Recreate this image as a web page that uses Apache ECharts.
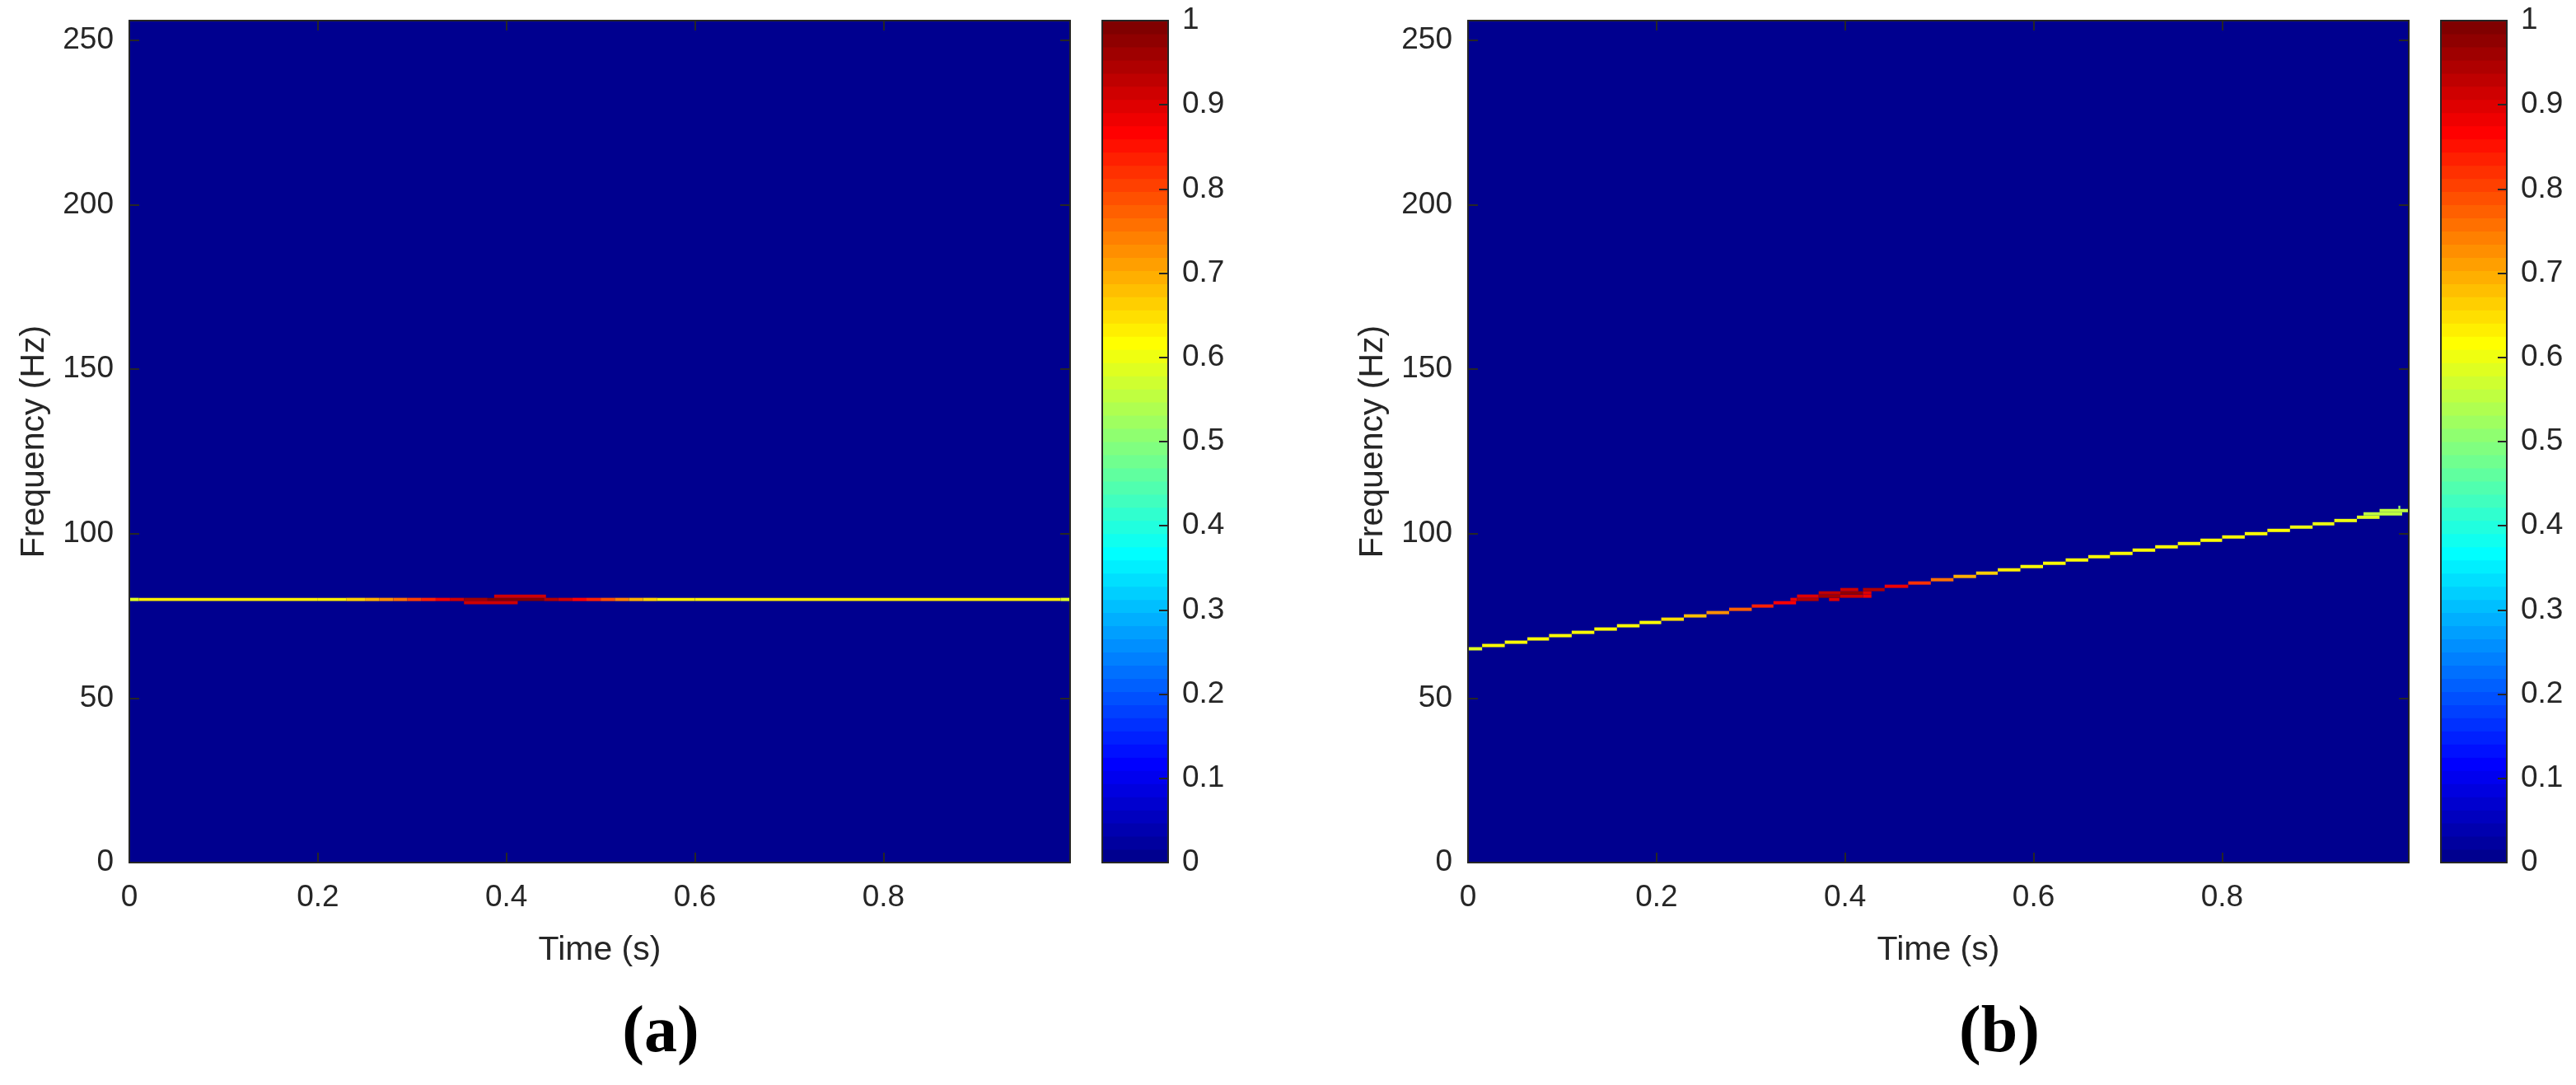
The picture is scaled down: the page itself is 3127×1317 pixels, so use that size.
<!DOCTYPE html>
<html>
<head>
<meta charset="utf-8">
<title>Spectrograms (a) (b)</title>
<script src="https://cdn.jsdelivr.net/npm/echarts@6/dist/echarts.min.js"></script>
<style>
  html, body { margin: 0; padding: 0; background: #fff; }
  #chart { width: 3127px; height: 1317px; }
</style>
</head>
<body>
<div id="chart"></div>
<script>
// spectrogram cells: [t start (s), t end (s), frequency bin (Hz), normalised magnitude]
// (a) steady tone at 80 Hz
const steadyCells = [
  [0.000, 0.010, 80, 0.58],
  [0.010, 0.200, 80, 0.63],
  [0.200, 0.230, 80, 0.64],
  [0.230, 0.250, 80, 0.66],
  [0.250, 0.265, 80, 0.69],
  [0.265, 0.280, 80, 0.72],
  [0.280, 0.295, 80, 0.76],
  [0.295, 0.310, 80, 0.80],
  [0.310, 0.325, 80, 0.84],
  [0.325, 0.340, 80, 0.88],
  [0.340, 0.355, 80, 0.92],
  [0.355, 0.380, 80, 0.96],
  [0.380, 0.440, 80, 0.99],
  [0.440, 0.455, 80, 0.95],
  [0.455, 0.470, 80, 0.91],
  [0.470, 0.485, 80, 0.87],
  [0.485, 0.500, 80, 0.83],
  [0.500, 0.515, 80, 0.79],
  [0.515, 0.530, 80, 0.74],
  [0.530, 0.545, 80, 0.70],
  [0.545, 0.560, 80, 0.66],
  [0.560, 0.600, 80, 0.64],
  [0.600, 0.988, 80, 0.63],
  [0.988, 0.998, 80, 0.58],
  [0.355, 0.412, 79, 0.91],
  [0.387, 0.442, 81, 0.91]
];

// (b) linear chirp 65 -> 107 Hz
const chirpCells = [
  [0.000, 0.015, 65, 0.58],
  [0.015, 0.039, 66, 0.61],
  [0.039, 0.063, 67, 0.61],
  [0.063, 0.086, 68, 0.61],
  [0.086, 0.110, 69, 0.61],
  [0.110, 0.134, 70, 0.61],
  [0.134, 0.158, 71, 0.61],
  [0.158, 0.182, 72, 0.62],
  [0.182, 0.205, 73, 0.62],
  [0.205, 0.229, 74, 0.65],
  [0.229, 0.253, 75, 0.68],
  [0.253, 0.277, 76, 0.72],
  [0.277, 0.301, 77, 0.77],
  [0.301, 0.324, 78, 0.83],
  [0.324, 0.348, 79, 0.87],
  [0.342, 0.349, 80, 0.88],
  [0.349, 0.372, 80, 0.95],
  [0.383, 0.394, 80, 0.90],
  [0.349, 0.372, 81, 0.90],
  [0.372, 0.395, 81, 0.96],
  [0.395, 0.419, 81, 0.92],
  [0.419, 0.428, 81, 0.88],
  [0.372, 0.395, 82, 0.93],
  [0.395, 0.419, 82, 0.97],
  [0.419, 0.428, 82, 0.90],
  [0.395, 0.414, 83, 0.91],
  [0.419, 0.442, 83, 0.95],
  [0.442, 0.467, 84, 0.88],
  [0.467, 0.491, 85, 0.82],
  [0.491, 0.515, 86, 0.76],
  [0.515, 0.539, 87, 0.70],
  [0.539, 0.562, 88, 0.66],
  [0.562, 0.586, 89, 0.64],
  [0.586, 0.610, 90, 0.62],
  [0.610, 0.634, 91, 0.61],
  [0.634, 0.658, 92, 0.61],
  [0.658, 0.681, 93, 0.61],
  [0.681, 0.705, 94, 0.61],
  [0.705, 0.729, 95, 0.61],
  [0.729, 0.753, 96, 0.61],
  [0.753, 0.777, 97, 0.61],
  [0.777, 0.800, 98, 0.61],
  [0.800, 0.824, 99, 0.61],
  [0.824, 0.848, 100, 0.61],
  [0.848, 0.872, 101, 0.61],
  [0.872, 0.896, 102, 0.60],
  [0.896, 0.919, 103, 0.60],
  [0.919, 0.943, 104, 0.60],
  [0.943, 0.967, 105, 0.58],
  [0.950, 0.991, 106, 0.56],
  [0.967, 0.998, 107, 0.56],
  [0.987, 0.989, 108, 0.52]
];

const panelLabels = ['a', 'b'];
const timeMax = 0.998;
const freqMax = 256;

const TXT = '#262626';
const FONT = '"Liberation Sans", Arial, Helvetica, sans-serif';

// MATLAB jet(64)
function jet(m) {
  const n = Math.ceil(m / 4);
  const u = [];
  for (let i = 1; i <= n; i++) u.push(i / n);
  for (let i = 1; i < n; i++) u.push(1);
  for (let i = n; i >= 1; i--) u.push(i / n);
  const g0 = Math.ceil(n / 2) - (m % 4 === 1 ? 1 : 0);
  const out = [];
  for (let j = 1; j <= m; j++) {
    const ig = j - g0 - 1, ir = j - g0 - n - 1, ib = j - g0 + n - 1;
    const r = ir >= 0 && ir < u.length ? u[ir] : 0;
    const g = ig >= 0 && ig < u.length ? u[ig] : 0;
    const b = ib >= 0 && ib < u.length ? u[ib] : 0;
    out.push('rgb(' + Math.round(r * 255) + ',' + Math.round(g * 255) + ',' + Math.round(b * 255) + ')');
  }
  return out;
}
const jetColors = jet(64);
const colorbarCells = jetColors.map((c, k) => [0, 1, k, (k + 0.5) / jetColors.length]);

const plotLeft = [157, 1782];
const barLeft = [1338, 2963];
const captionX = [802, 2427];
const TOP = 25, H = 1022, PW = 1142, BW = 80;

function renderCell(params, api) {
  const a = api.coord([api.value(0), api.value(2) + 0.5]);
  const b = api.coord([api.value(1), api.value(2) - 0.5]);
  return {
    type: 'rect',
    shape: { x: a[0], y: a[1], width: b[0] - a[0], height: b[1] - a[1] },
    style: { fill: api.visual('color') }
  };
}
function renderLevel(params, api) {
  const k = api.value(2), n = jetColors.length;
  const a = api.coord([0, (k + 1) / n]);
  const b = api.coord([1, k / n]);
  return {
    type: 'rect',
    shape: { x: a[0], y: a[1] - 0.5, width: b[0] - a[0], height: b[1] - a[1] + 1 },
    style: { fill: api.visual('color') }
  };
}

const lineStyle = { color: TXT, width: 2 };
const frame = { show: true, onZero: false, lineStyle };
const label = { color: TXT, fontSize: 37, fontFamily: FONT };
const tickIn = (len) => ({ show: true, inside: true, length: len, lineStyle });

const grid = [], xAxis = [], yAxis = [], series = [], title = [];
panelLabels.forEach((lab, p) => {
  grid.push({ left: plotLeft[p], top: TOP, width: PW, height: H, show: true,
              backgroundColor: jetColors[0], borderWidth: 0, outerBoundsMode: 'none' });
  grid.push({ left: barLeft[p], top: TOP, width: BW, height: H, outerBoundsMode: 'none' });
  const gp = 2 * p, gb = 2 * p + 1;

  // main plot axes: bottom / top / left / right
  xAxis.push({
    gridIndex: gp, type: 'value', min: 0, max: timeMax, interval: 0.2, z: 5,
    axisLine: frame, splitLine: { show: false },
    axisTick: tickIn(12),
    axisLabel: Object.assign({ margin: 24, showMaxLabel: false }, label),
    name: 'Time (s)', nameLocation: 'middle', nameGap: 86,
    nameTextStyle: { color: TXT, fontSize: 41, fontFamily: FONT }
  });
  xAxis.push({
    gridIndex: gp, type: 'value', position: 'top', min: 0, max: timeMax, interval: 0.2, z: 5,
    axisLine: frame, splitLine: { show: false },
    axisTick: tickIn(12),
    axisLabel: { show: false }
  });
  yAxis.push({
    gridIndex: gp, type: 'value', min: 0, max: freqMax, interval: 50, z: 5,
    axisLine: frame, splitLine: { show: false },
    axisTick: tickIn(12),
    axisLabel: Object.assign({ margin: 19, showMaxLabel: false }, label),
    name: 'Frequency (Hz)', nameLocation: 'middle', nameGap: 95, nameRotate: 90,
    nameTextStyle: { color: TXT, fontSize: 41, fontFamily: FONT }
  });
  yAxis.push({
    gridIndex: gp, type: 'value', position: 'right', min: 0, max: freqMax, interval: 50, z: 5,
    axisLine: frame, splitLine: { show: false },
    axisTick: tickIn(12),
    axisLabel: { show: false }
  });

  // colorbar axes
  xAxis.push({ gridIndex: gb, type: 'value', min: 0, max: 1, z: 5,
    axisLine: frame, axisTick: { show: false },
    axisLabel: { show: false }, splitLine: { show: false } });
  xAxis.push({ gridIndex: gb, type: 'value', position: 'top', min: 0, max: 1, z: 5,
    axisLine: frame, axisTick: { show: false },
    axisLabel: { show: false }, splitLine: { show: false } });
  yAxis.push({ gridIndex: gb, type: 'value', min: 0, max: 1, z: 5,
    axisLine: frame, axisTick: { show: false },
    axisLabel: { show: false }, splitLine: { show: false } });
  yAxis.push({ gridIndex: gb, type: 'value', position: 'right', min: 0, max: 1, interval: 0.1, z: 5,
    axisLine: frame, splitLine: { show: false },
    axisTick: tickIn(11),
    axisLabel: Object.assign({ margin: 17 }, label) });

  series.push({
    type: 'custom', xAxisIndex: 4 * p, yAxisIndex: 4 * p, z: 1, clip: true,
    renderItem: renderCell, encode: { x: [0, 1], y: 2 },
    data: p === 0 ? steadyCells : chirpCells, silent: true
  });
  series.push({
    type: 'custom', xAxisIndex: 4 * p + 2, yAxisIndex: 4 * p + 3, z: 1,
    renderItem: renderLevel, encode: { x: [0, 1], y: 2 },
    data: colorbarCells, silent: true
  });

  title.push({
    text: '{p|(}{b|' + lab + '}{p|)}', left: captionX[p], top: 1215, textAlign: 'center', padding: 0,
    textStyle: { rich: {
      p: { fontFamily: '"Liberation Serif", "Times New Roman", serif', fontSize: 80, color: '#000' },
      b: { fontFamily: '"Liberation Serif", "Times New Roman", serif', fontSize: 80, fontWeight: 'bold', color: '#000' }
    } }
  });
});

const chart = echarts.init(document.getElementById('chart'), null, { renderer: 'canvas' });
chart.setOption({
  animation: false,
  backgroundColor: '#fff',
  title, grid, xAxis, yAxis, series,
  visualMap: {
    type: 'piecewise', show: false, dimension: 3,
    seriesIndex: [0, 1, 2, 3],
    pieces: jetColors.map((c, k) => k === jetColors.length - 1
      ? { gte: k / jetColors.length, lte: 1, color: c }
      : { gte: k / jetColors.length, lt: (k + 1) / jetColors.length, color: c })
  }
});
</script>
</body>
</html>
